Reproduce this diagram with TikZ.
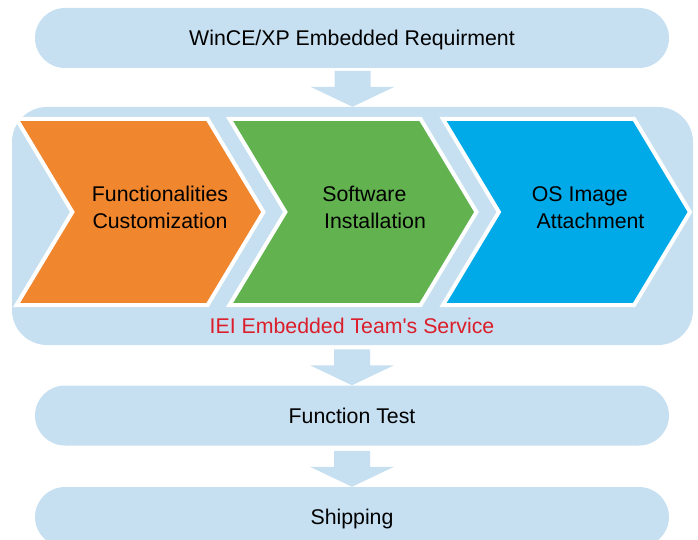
\documentclass[tikz,border=0pt]{standalone}
\usepackage{fontspec}
\setmainfont{Liberation Sans}
\usepackage{xcolor}
\usepackage{tikz}
\usetikzlibrary{shapes.symbols,calc}

\definecolor{flowblue}{RGB}{198,224,241}
\definecolor{steporange}{RGB}{240,134,46}
\definecolor{stepgreen}{RGB}{98,178,80}
\definecolor{stepcyan}{RGB}{0,170,232}
\definecolor{teamred}{RGB}{219,30,42}

\newcommand\flowfont{\fontsize{21.3}{27}\selectfont}
\newcommand\flowarrow[1]{%
  \fill[flowblue] ([xshift=-18pt,yshift=36pt]#1.north) -- ++(36pt,0pt) -- ++(0pt,-16pt)
    -- ++(24pt,0pt) -- (#1.north) -- ++(-42pt,20pt) -- ++(24pt,0pt) -- cycle;}

\begin{document}
\begin{tikzpicture}[x=1pt,y=-1pt,
    pill/.style={fill=flowblue,rounded corners=30pt,minimum width=634pt,minimum height=60pt,
      inner sep=0pt,font=\flowfont,text height=15pt,text depth=0pt},
    panel/.style={fill=flowblue,rounded corners=35pt,minimum width=681pt,minimum height=238pt,inner sep=0pt},
    chevron/.style={signal,signal from=west,signal to=east,signal pointer angle=118,
      minimum width=247pt,minimum height=186pt,draw=white,line width=4pt,inner sep=0pt},
    steptext/.style={font=\flowfont,align=center}]
\useasboundingbox (0,0) rectangle (698,540);

\node[pill] (req) at (352,38) {WinCE/XP Embedded Requirment};
\node[panel] (svc) at (352.5,226) {};
\node[pill] (test) at (352,415.5) {Function Test};
\node[pill] (ship) at (352,517) {Shipping};

\node[chevron,fill=steporange] (custom) at (140,212) {};
\node[chevron,fill=stepgreen] (install) at (353,212) {};
\node[chevron,fill=stepcyan] (attach) at (566.5,212) {};

\node[steptext] (customtext) at ([xshift=20pt,yshift=4.5pt]custom.center) {Functionalities\\Customization};
\node[steptext] (installtext) at ([xshift=22pt,yshift=4.5pt]install.center) {Software\hspace*{1em}\\Installation};
\node[steptext] (attachtext) at ([xshift=24pt,yshift=4.5pt]attach.center) {OS Image\hspace*{1em}\\Attachment};

\node[font=\flowfont,text=teamred,text height=15pt,text depth=0pt] (team) at (352,325.5) {IEI Embedded Team\textquotesingle s Service};

\flowarrow{svc}
\flowarrow{test}
\flowarrow{ship}
\end{tikzpicture}
\end{document}
